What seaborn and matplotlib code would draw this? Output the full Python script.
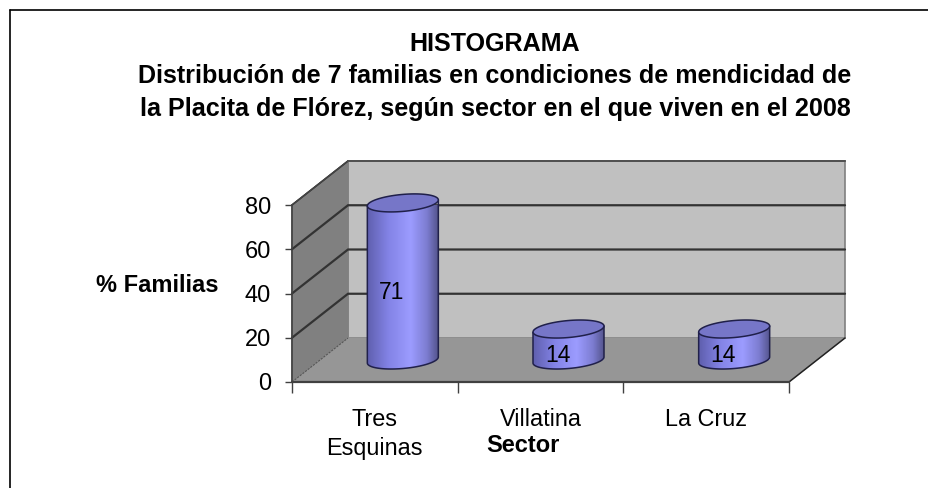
import numpy as np
import pandas as pd
import matplotlib
matplotlib.use("Agg")
import matplotlib.pyplot as plt
from matplotlib.colors import LinearSegmentedColormap
from matplotlib.lines import Line2D
from matplotlib.patches import PathPatch
from matplotlib.path import Path
import seaborn as sns

sectors = ["Tres\nEsquinas", "Villatina", "La Cruz"]
percents = [71, 14, 14]
y_ticks = [0, 20, 40, 60, 80]
title_lines = ["HISTOGRAMA",
               "Distribución de 7 familias en condiciones de mendicidad de",
               "la Placita de Flórez, según sector en el que viven en el 2008"]

sns.set_style("white")
plt.rcParams["font.family"] = ["Liberation Sans", "DejaVu Sans"]
plt.rcParams["text.color"] = "black"
plt.rcParams["xtick.labelcolor"] = "black"
plt.rcParams["ytick.labelcolor"] = "black"

W, H = 929, 488
fig = plt.figure(figsize=(W / 100, H / 100), dpi=100)
ax = fig.add_axes([292 / W, (H - 382) / H, 497 / W, 177 / H])

df = pd.DataFrame({"sector": sectors, "pct": percents})
sns.barplot(data=df, x="sector", y="pct", color="#9999ff", width=71 / (497 / 3),
            saturation=1, ax=ax, zorder=3)

xmin, xmax, ymin, ymax = -0.5, 2.5, 0, 80
ux = (497 / 3)          # pixels per category
uy = 177 / 80           # pixels per value unit
DX, DY = 56 / ux, 44 / uy

# walls and floor
ax.fill([xmin + DX, xmax + DX, xmax + DX, xmin + DX], [DY, DY, ymax + DY, ymax + DY],
        color="#c0c0c0", ec="#808080", lw=1.2, zorder=0, clip_on=False)
ax.fill([xmin, xmin + DX, xmin + DX, xmin], [ymin, DY, ymax + DY, ymax],
        color="#808080", ec="#808080", lw=1, zorder=0.5, clip_on=False)
ax.fill([xmin, xmin + DX, xmax + DX, xmax], [ymin, DY, DY, ymin],
        color="#969696", ec="#969696", lw=0.5, zorder=0.6, clip_on=False)
for t in y_ticks[1:]:
    ax.plot([xmin, xmin + DX, xmax + DX], [t, t + DY, t + DY], color="#333333",
            lw=1.6 if t < 80 else 1.2, zorder=1, clip_on=False,
            solid_joinstyle="miter")
ax.plot([xmin, xmin + DX], [ymax, ymax + DY], color="#444444", lw=1, zorder=1, clip_on=False)
ax.plot([xmin + DX, xmax + DX], [ymax + DY] * 2, color="#555555", lw=1.2, zorder=1, clip_on=False)
ax.plot([xmin, xmin + DX], [0, DY], color="#555555", lw=0.8, ls=(0, (2, 1)), zorder=1, clip_on=False)
ax.plot([xmax, xmax + DX], [0, DY], color="#222222", lw=1.1, zorder=1, clip_on=False)
ax.plot([xmin, xmax], [0, 0], color="#404040", lw=1.6, zorder=2, clip_on=False)
ax.plot([xmin, xmin], [0, ymax], color="#404040", lw=1.2, zorder=2, clip_on=False)

# cylinders, placed from the seaborn bars
cmap = LinearSegmentedColormap.from_list(
    "cyl", [(0, "#5f5fae"), (0.3, "#8383e6"), (0.62, "#9c9cff"), (0.85, "#7c7cd0"), (1, "#55558f")])
grad = np.linspace(0, 1, 128).reshape(1, -1)
theta_low = np.linspace(np.pi, 2 * np.pi, 50)
theta_all = np.linspace(0, 2 * np.pi, 100)
a_px, b_px, s_px = 35.5, 8.5, 3.0

for bar, val in zip(ax.patches, percents):
    x0 = bar.get_x() + 28 / ux
    w = bar.get_width()
    cx = x0 + w / 2
    base = 22 / uy
    top = base + val
    bar.set_x(x0)
    bar.set_y(base)
    bar.set_edgecolor("none")
    a = w / 2
    b, s = b_px / uy, s_px / uy

    def ell(t, cy):
        return cx + a * np.cos(t), cy + b * np.sin(t) + s * np.cos(t)

    xl, yl = ell(theta_low, base)
    xs = np.r_[x0, xl, x0 + w, x0]
    ys = np.r_[top - s, yl, top + s, top - s]
    body = PathPatch(Path(np.c_[xs, ys]), fc="none", ec="#20204a", lw=1.1,
                     zorder=4.5, clip_on=False, joinstyle="round")
    ax.add_patch(body)
    im = ax.imshow(grad, cmap=cmap, extent=[x0, x0 + w, base - 2 * b, top + 2 * b],
                   aspect="auto", zorder=4, interpolation="bilinear")
    im.set_clip_path(body)
    xt, yt = ell(theta_all, top)
    ax.fill(xt, yt, fc="#7676c8", ec="#20204a", lw=1.1, zorder=5, clip_on=False)
    ax.annotate(str(val), (cx, base + val / 2), xytext=(-11, -11), textcoords="offset pixels",
                ha="center", va="center", fontsize=16.5, color="black", zorder=6,
                annotation_clip=False)

ax.set_xlim(xmin, xmax)
ax.set_ylim(ymin, ymax)
sns.despine(ax=ax, left=True, bottom=True)
ax.set_xlabel("")
ax.set_ylabel("")
ax.set_yticks(y_ticks)
ax.tick_params(axis="y", labelsize=17, length=5, width=1, color="#404040", pad=10, left=True)
ax.set_xticks([-0.5, 0.5, 1.5, 2.5], minor=True)
ax.tick_params(axis="x", which="minor", length=8, width=1, color="#404040", bottom=True)
ax.tick_params(axis="x", which="major", length=0, labelsize=16.8, pad=19)
for lab in ax.get_xticklabels():
    lab.set_linespacing(1.3)

# texts
for y, line in zip([44, 76, 109], title_lines):
    fig.text(495 / W, 1 - y / H, line, ha="center", va="center", fontsize=18.1,
             fontweight="bold")
fig.text(157 / W, 1 - 285 / H, "% Familias", ha="center", va="center", fontsize=17,
         fontweight="bold")
fig.text(523 / W, 1 - 445 / H, "Sector", ha="center", va="center", fontsize=17,
         fontweight="bold")

# frame of the picture
fig.add_artist(Line2D([10.5 / W, 10.5 / W], [0, 1 - 9.5 / H], color="black", lw=1.2))
fig.add_artist(Line2D([10.5 / W, 1], [1 - 9.5 / H] * 2, color="black", lw=1.2))

fig.savefig("out.png", dpi=100)
